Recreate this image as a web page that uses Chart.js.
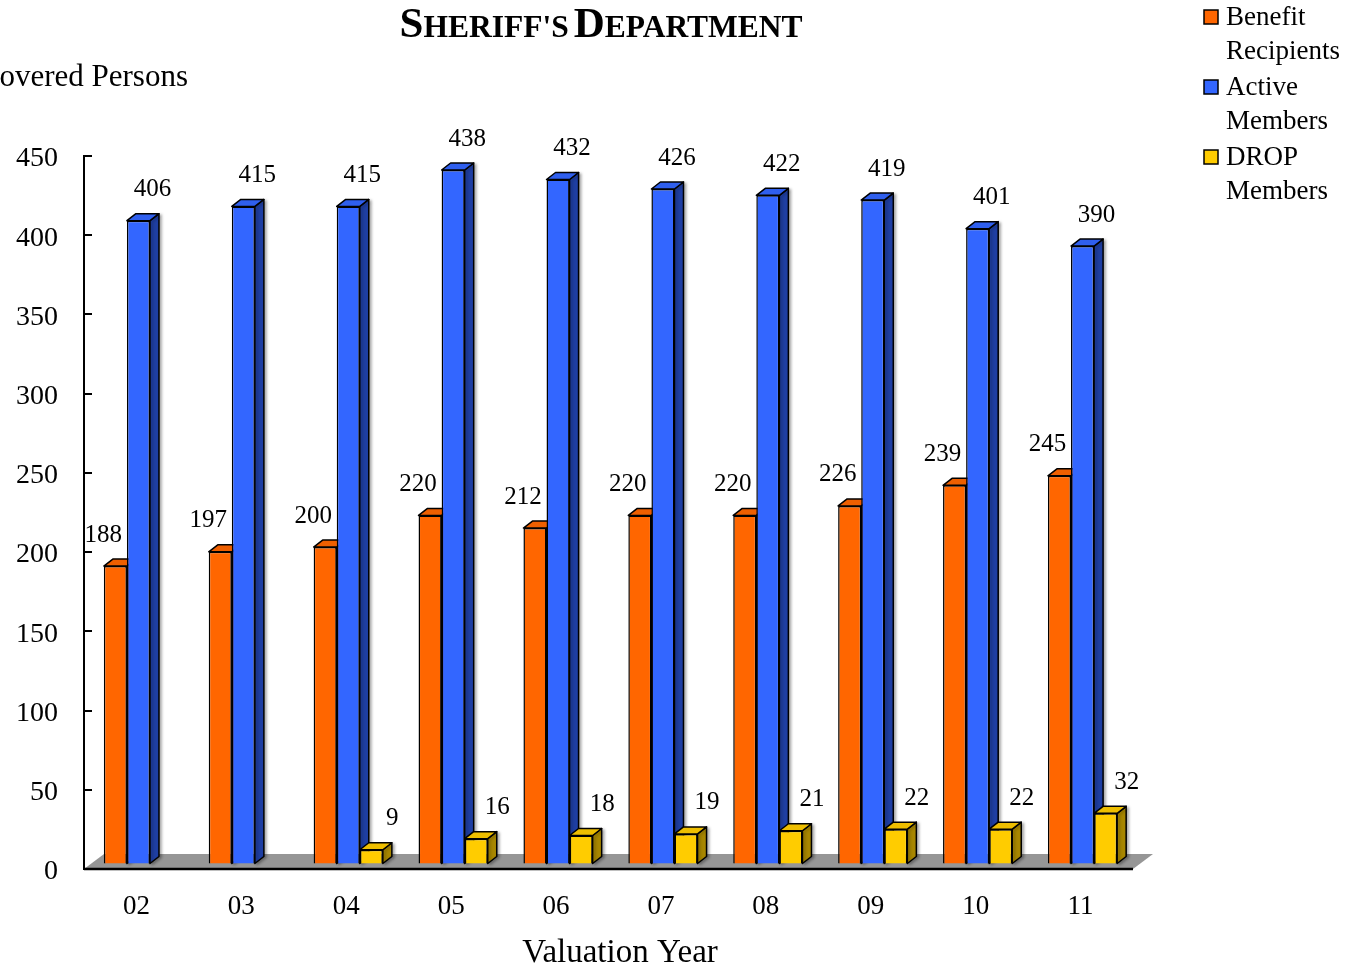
<!DOCTYPE html>
<html>
<head>
<meta charset="utf-8">
<title>Sheriff's Department</title>
<script src="https://cdn.jsdelivr.net/npm/chart.js@4.4.1/dist/chart.umd.min.js"></script>
<style>
  html, body { margin: 0; padding: 0; background: #fff; }
  #wrap { width: 1353px; height: 972px; }
</style>
</head>
<body>
<div id="wrap"><canvas id="sheriffChart"></canvas></div>
<script>
// valuation years and head counts
const years = ['02', '03', '04', '05', '06', '07', '08', '09', '10', '11'];
const benefitRecipients = [188, 197, 200, 220, 212, 220, 220, 226, 239, 245];
const activeMembers = [406, 415, 415, 438, 432, 426, 422, 419, 401, 390];
const dropMembers = [null, null, 9, 16, 18, 19, 21, 22, 22, 32];
const yTickValues = [0, 50, 100, 150, 200, 250, 300, 350, 400, 450];

const seriesNames = [['Benefit', 'Recipients'], ['Active', 'Members'], ['DROP', 'Members']];
const frontColors = ['#FF6600', '#3366FF', '#FFCC00'];
const topColors = ['#EE5F00', '#2F5FEE', '#EEBE00'];
const sideColors = ['#A84300', '#1F3FA3', '#A88700'];

const SERIF = '"Liberation Serif", "Times New Roman", serif';

// fake 3d: depth of each bar and of the floor
const depth = { dx: 9, dy: -7 };
const barShift = { x: 2, y: -5 };
const floorDepth = { dx: 20, dy: -15 };
// where the value labels sit relative to the bar front
const labelDx = [-12, 14, 21];
const labelDy = -31;

function face(ctx, pts, fill) {
  ctx.beginPath();
  ctx.moveTo(pts[0][0], pts[0][1]);
  for (let k = 1; k < pts.length; k++) ctx.lineTo(pts[k][0], pts[k][1]);
  ctx.closePath();
  ctx.fillStyle = fill;
  ctx.fill();
  ctx.stroke();
}

const bars3d = {
  id: 'bars3d',
  beforeDatasetsDraw(chart) {
    const ctx = chart.ctx;
    const area = chart.chartArea;

    // grey floor under the bars
    ctx.save();
    ctx.fillStyle = '#969696';
    ctx.beginPath();
    ctx.moveTo(area.left, area.bottom);
    ctx.lineTo(area.right, area.bottom);
    ctx.lineTo(area.right + floorDepth.dx, area.bottom + floorDepth.dy);
    ctx.lineTo(area.left + floorDepth.dx, area.bottom + floorDepth.dy);
    ctx.closePath();
    ctx.fill();
    ctx.strokeStyle = '#000';
    ctx.lineWidth = 2.5;
    ctx.beginPath();
    ctx.moveTo(area.left, area.bottom);
    ctx.lineTo(area.right, area.bottom);
    ctx.stroke();
    ctx.restore();

    const metas = chart.getSortedVisibleDatasetMetas();
    for (let i = 0; i < years.length; i++) {
      metas.forEach((meta, d) => {
        const value = chart.data.datasets[meta.index].data[i];
        if (value === null || value === undefined) return;
        const bar = meta.data[i];
        const p = bar.getProps(['x', 'y', 'base', 'width'], true);
        const left = p.x - p.width / 2 + barShift.x;
        const right = left + p.width;
        const top = p.y + barShift.y;
        const bottom = p.base + barShift.y;

        ctx.save();
        ctx.strokeStyle = '#000';
        ctx.lineWidth = 1.5;
        ctx.lineJoin = 'round';
        ctx.shadowColor = 'rgba(0,0,0,0.3)';
        ctx.shadowBlur = 3;
        ctx.shadowOffsetX = 2;
        ctx.shadowOffsetY = 1;
        face(ctx, [[right, top], [right + depth.dx, top + depth.dy],
                   [right + depth.dx, bottom + depth.dy], [right, bottom]], sideColors[d]);
        ctx.shadowColor = 'transparent';
        face(ctx, [[left, top], [left + depth.dx, top + depth.dy],
                   [right + depth.dx, top + depth.dy], [right, top]], topColors[d]);
        ctx.translate(barShift.x, barShift.y);
        bar.draw(ctx, area);
        ctx.restore();
      });
    }
    return false;
  },
  afterDraw(chart) {
    const ctx = chart.ctx;
    const area = chart.chartArea;
    const yScale = chart.scales.y;

    // short inward ticks on the value axis
    ctx.save();
    ctx.strokeStyle = '#000';
    ctx.lineWidth = 2;
    yTickValues.forEach(v => {
      const y = Math.round(yScale.getPixelForValue(v));
      ctx.beginPath();
      ctx.moveTo(area.left - 1, y);
      ctx.lineTo(area.left + 8, y);
      ctx.stroke();
    });
    ctx.restore();

    // value labels above the bars
    ctx.save();
    ctx.fillStyle = '#000';
    ctx.font = '25px ' + SERIF;
    ctx.textAlign = 'center';
    ctx.textBaseline = 'middle';
    chart.getSortedVisibleDatasetMetas().forEach((meta, d) => {
      const data = chart.data.datasets[meta.index].data;
      meta.data.forEach((bar, i) => {
        if (data[i] === null) return;
        const p = bar.getProps(['x', 'y'], true);
        ctx.fillText(String(data[i]), p.x + barShift.x + labelDx[d], p.y + barShift.y + labelDy);
      });
    });
    ctx.restore();

    // title in small caps
    ctx.save();
    ctx.fillStyle = '#000';
    ctx.textBaseline = 'alphabetic';
    ctx.textAlign = 'left';
    const parts = [['S', 43], ["HERIFF'S", 31.5], [' ', 20], ['D', 43], ['EPARTMENT', 31.5]];
    let total = 0;
    parts.forEach(pt => {
      ctx.font = 'bold ' + pt[1] + 'px ' + SERIF;
      total += ctx.measureText(pt[0]).width;
    });
    let x = 601 - total / 2;
    parts.forEach(pt => {
      ctx.font = 'bold ' + pt[1] + 'px ' + SERIF;
      ctx.fillText(pt[0], x, 37);
      x += ctx.measureText(pt[0]).width;
    });
    ctx.restore();

    // axis titles
    ctx.save();
    ctx.fillStyle = '#000';
    ctx.font = '31px ' + SERIF;
    ctx.textAlign = 'right';
    ctx.textBaseline = 'middle';
    ctx.fillText('Covered Persons', 188, 78);
    ctx.font = '33px ' + SERIF;
    ctx.textAlign = 'center';
    ctx.fillText('Valuation Year', 620, 953);
    ctx.restore();

    // legend, two lines per entry
    ctx.save();
    ctx.font = '27px ' + SERIF;
    ctx.textAlign = 'left';
    ctx.textBaseline = 'middle';
    seriesNames.forEach((lines, d) => {
      const y0 = 17 + d * 70;
      ctx.fillStyle = frontColors[d];
      ctx.fillRect(1204, y0 - 7, 14, 14);
      ctx.strokeStyle = '#000';
      ctx.lineWidth = 1.5;
      ctx.strokeRect(1204, y0 - 7, 14, 14);
      ctx.fillStyle = '#000';
      lines.forEach((t, k) => ctx.fillText(t, 1226, y0 + 1 + k * 34));
    });
    ctx.restore();
  }
};

const ctx = document.getElementById('sheriffChart').getContext('2d');
const sheriffChart = new Chart(ctx, {
  type: 'bar',
  data: {
    labels: years,
    datasets: [
      { label: 'Benefit Recipients', data: benefitRecipients, backgroundColor: frontColors[0] },
      { label: 'Active Members', data: activeMembers, backgroundColor: frontColors[1] },
      { label: 'DROP Members', data: dropMembers, backgroundColor: frontColors[2] }
    ]
  },
  options: {
    responsive: true,
    maintainAspectRatio: false,
    animation: false,
    categoryPercentage: 0.66,
    barPercentage: 1,
    borderColor: '#000',
    borderWidth: 1.5,
    layout: { padding: { left: 0, top: 156, right: 220, bottom: 0 } },
    plugins: {
      legend: { display: false },
      tooltip: { enabled: false },
      title: { display: false }
    },
    scales: {
      x: {
        grid: { display: false, drawTicks: false },
        border: { display: false },
        ticks: { color: '#000', padding: 22, font: { family: SERIF, size: 27 } },
        afterFit(scale) { scale.height = 103; }
      },
      y: {
        min: 0,
        max: 450,
        grid: { drawOnChartArea: false, drawTicks: false },
        border: { display: true, color: '#000', width: 2 },
        ticks: { color: '#000', padding: 26, labelOffset: 3, font: { family: SERIF, size: 28 } },
        afterBuildTicks(scale) { scale.ticks = yTickValues.map(v => ({ value: v })); },
        afterFit(scale) { scale.width = 84; }
      }
    }
  },
  plugins: [bars3d]
});
</script>
</body>
</html>
